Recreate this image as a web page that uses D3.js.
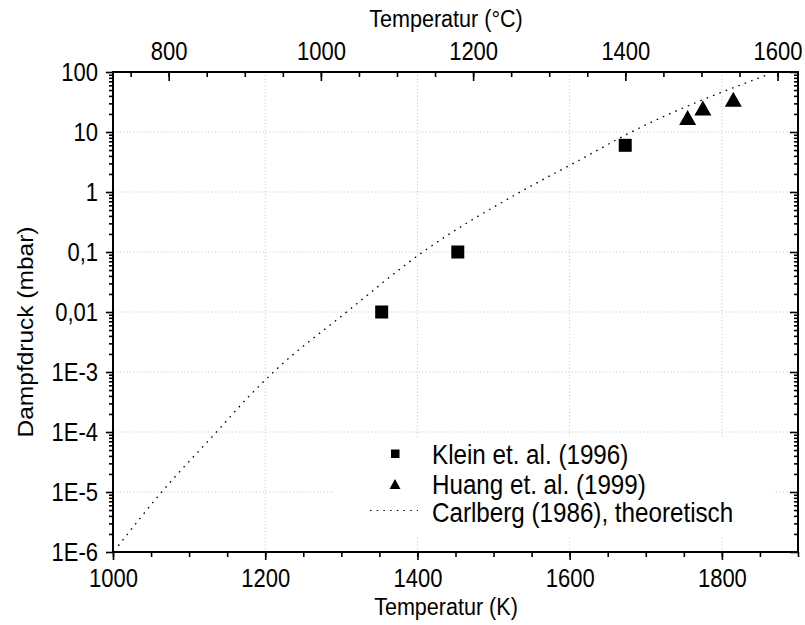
<!DOCTYPE html>
<html>
<head>
<meta charset="utf-8">
<script src="https://cdn.jsdelivr.net/npm/d3@7"></script>
<style>
  body { margin: 0; background: #fff; }
  svg { display: block; font-family: "Liberation Sans", Arial, sans-serif; }
</style>
</head>
<body>
<svg id="chart" width="805" height="625"></svg>
<script>
// ------------ DATA -----------------

const kleinT = [1353, 1453, 1673];
const kleinP = [0.01, 0.1, 6];

const huangT = [1755, 1775, 1815];
const huangP = [17.5, 25, 35];

const carlbergT = [1007, 1064, 1136, 1180, 1211, 1307, 1407, 1535, 1609, 1681, 1860];
const carlbergP = [1.27e-6, 1e-5, 1e-4, 4.1e-4, 1e-3, 0.01, 0.1, 1, 3.2, 10, 90];

const xTicksK = [1000, 1200, 1400, 1600, 1800];
const xTicksC = [800, 1000, 1200, 1400, 1600];
const yTicks = [100, 10, 1, 0.1, 0.01, 1e-3, 1e-4, 1e-5, 1e-6];
const yTickLabels = ["100", "10", "1", "0,1", "0,01", "1E-3", "1E-4", "1E-5", "1E-6"];

const legendLabels = ["Klein et. al. (1996)", "Huang et. al. (1999)", "Carlberg (1986), theoretisch"];

// ------------ SCALES -----------------

const plotLeft = 113, plotRight = 798, plotTop = 72, plotBottom = 552;
const squeeze = 0.88; // text in the original is a bit narrow

const x = d3.scaleLinear().domain([1000, 1900]).range([plotLeft, plotRight]);
const xC = d3.scaleLinear().domain([1000 - 273.15, 1900 - 273.15]).range([plotLeft, plotRight]);
const y = d3.scaleLog().domain([1e-6, 100]).range([plotBottom, plotTop]);

const svg = d3.select("#chart");

// ------------ GRID -----------------

const grid = svg.append("g")
  .attr("stroke", "#c4c4c4")
  .attr("stroke-width", 1)
  .attr("stroke-dasharray", "1,2.4");

grid.selectAll("line.v")
  .data(xTicksK.slice(1))
  .join("line")
  .attr("class", "v")
  .attr("x1", d => x(d)).attr("x2", d => x(d))
  .attr("y1", plotTop).attr("y2", plotBottom);

grid.selectAll("line.h")
  .data(yTicks.slice(1, -1))
  .join("line")
  .attr("class", "h")
  .attr("x1", plotLeft).attr("x2", plotRight)
  .attr("y1", d => y(d)).attr("y2", d => y(d));

// ------------ CURVE + MARKERS -----------------

const carlberg = carlbergT.map((t, i) => [t, carlbergP[i]]);

svg.append("path")
  .datum(carlberg)
  .attr("fill", "none")
  .attr("stroke", "#000")
  .attr("stroke-width", 1.3)
  .attr("stroke-dasharray", "1.6,5.2")
  .attr("d", d3.line()
    .x(d => x(d[0]))
    .y(d => y(d[1]))
    .curve(d3.curveMonotoneX));

function trianglePath(w, h) {
  return `M0,${-h / 2}L${w / 2},${h / 2}L${-w / 2},${h / 2}Z`;
}

svg.append("g")
  .selectAll("rect")
  .data(kleinT.map((t, i) => [t, kleinP[i]]))
  .join("rect")
  .attr("x", d => x(d[0]) - 6.5)
  .attr("y", d => y(d[1]) - 6.5)
  .attr("width", 13)
  .attr("height", 13)
  .attr("fill", "#000");

svg.append("g")
  .selectAll("path")
  .data(huangT.map((t, i) => [t, huangP[i]]))
  .join("path")
  .attr("transform", d => `translate(${x(d[0])},${y(d[1])})`)
  .attr("d", trianglePath(17, 15))
  .attr("fill", "#000");

// ------------ LEGEND -----------------

const rowY = [454, 484, 512];

const legend = svg.append("g");
legend.append("rect")
  .attr("x", 333).attr("y", 438)
  .attr("width", 440).attr("height", 97)
  .attr("fill", "#fff");

legend.append("rect")
  .attr("x", 391).attr("y", rowY[0] - 4.5)
  .attr("width", 8.5).attr("height", 8.5)
  .attr("fill", "#000");

legend.append("path")
  .attr("transform", `translate(395,${rowY[1]})`)
  .attr("d", trianglePath(11, 10))
  .attr("fill", "#000");

legend.append("line")
  .attr("x1", 370).attr("x2", 418)
  .attr("y1", rowY[2] - 1.5).attr("y2", rowY[2] - 1.5)
  .attr("stroke", "#000")
  .attr("stroke-width", 1.2)
  .attr("stroke-dasharray", "1.5,5.2");

legend.selectAll("text")
  .data(legendLabels)
  .join("text")
  .attr("transform", (d, i) => `translate(432,${rowY[i]}) scale(${squeeze},1)`)
  .attr("dy", "0.35em")
  .attr("font-size", 27.5)
  .text(d => d);

// ------------ AXES -----------------

function styleAxis(g) {
  g.select(".domain").remove();
  g.selectAll(".tick line").attr("stroke", "#000").attr("stroke-width", 1.6);
  g.selectAll(".tick text").attr("fill", "#000").attr("font-size", 25)
    .attr("font-family", "Liberation Sans, Arial, sans-serif")
    .attr("transform", `scale(${squeeze},1)`);
}

const minorK = d3.range(1000, 1901, 50);
const minorC = d3.range(750, 1601, 50);
const minorY = [];
for (let e = -6; e < 2; e++) {
  for (let m = 2; m <= 9; m++) minorY.push(m * Math.pow(10, e));
}

// bottom (K)
svg.append("g").attr("transform", `translate(0,${plotBottom})`)
  .call(d3.axisBottom(x).tickValues(minorK).tickSize(5).tickFormat(""))
  .call(styleAxis);
svg.append("g").attr("transform", `translate(0,${plotBottom})`)
  .call(d3.axisBottom(x).tickValues(xTicksK).tickSize(8).tickPadding(9).tickFormat(d3.format("d")))
  .call(styleAxis);

// top (°C), ticks inward
svg.append("g").attr("transform", `translate(0,${plotTop})`)
  .call(d3.axisTop(xC).tickValues(minorC).tickSize(-5).tickFormat(""))
  .call(styleAxis);
svg.append("g").attr("transform", `translate(0,${plotTop})`)
  .call(d3.axisTop(xC).tickValues(xTicksC).tickSize(-9).tickPadding(12).tickFormat(d3.format("d")))
  .call(styleAxis);

// left
svg.append("g").attr("transform", `translate(${plotLeft},0)`)
  .call(d3.axisLeft(y).tickValues(minorY).tickSize(4).tickFormat(""))
  .call(styleAxis);
svg.append("g").attr("transform", `translate(${plotLeft},0)`)
  .call(d3.axisLeft(y).tickValues(yTicks).tickSize(7).tickPadding(10)
    .tickFormat((d, i) => yTickLabels[i]))
  .call(styleAxis);

// right, ticks inward
svg.append("g").attr("transform", `translate(${plotRight},0)`)
  .call(d3.axisRight(y).tickValues(minorY).tickSize(-4).tickFormat(""))
  .call(styleAxis);
svg.append("g").attr("transform", `translate(${plotRight},0)`)
  .call(d3.axisRight(y).tickValues(yTicks).tickSize(-8).tickFormat(""))
  .call(styleAxis);

// frame
svg.append("rect")
  .attr("x", plotLeft).attr("y", plotTop)
  .attr("width", plotRight - plotLeft).attr("height", plotBottom - plotTop)
  .attr("fill", "none")
  .attr("stroke", "#000")
  .attr("stroke-width", 2);

// ------------ TITLES -----------------

svg.append("text")
  .attr("transform", `translate(446,615) scale(${squeeze},1)`)
  .attr("text-anchor", "middle")
  .attr("font-size", 24.5)
  .text("Temperatur (K)");

svg.append("text")
  .attr("transform", `translate(446,27) scale(${squeeze},1)`)
  .attr("text-anchor", "middle")
  .attr("font-size", 24.5)
  .text("Temperatur (°C)");

svg.append("text")
  .attr("transform", `translate(33,332) scale(${squeeze},1) rotate(-90)`)
  .attr("text-anchor", "middle")
  .attr("font-size", 24.5)
  .text("Dampfdruck (mbar)");
</script>
</body>
</html>
